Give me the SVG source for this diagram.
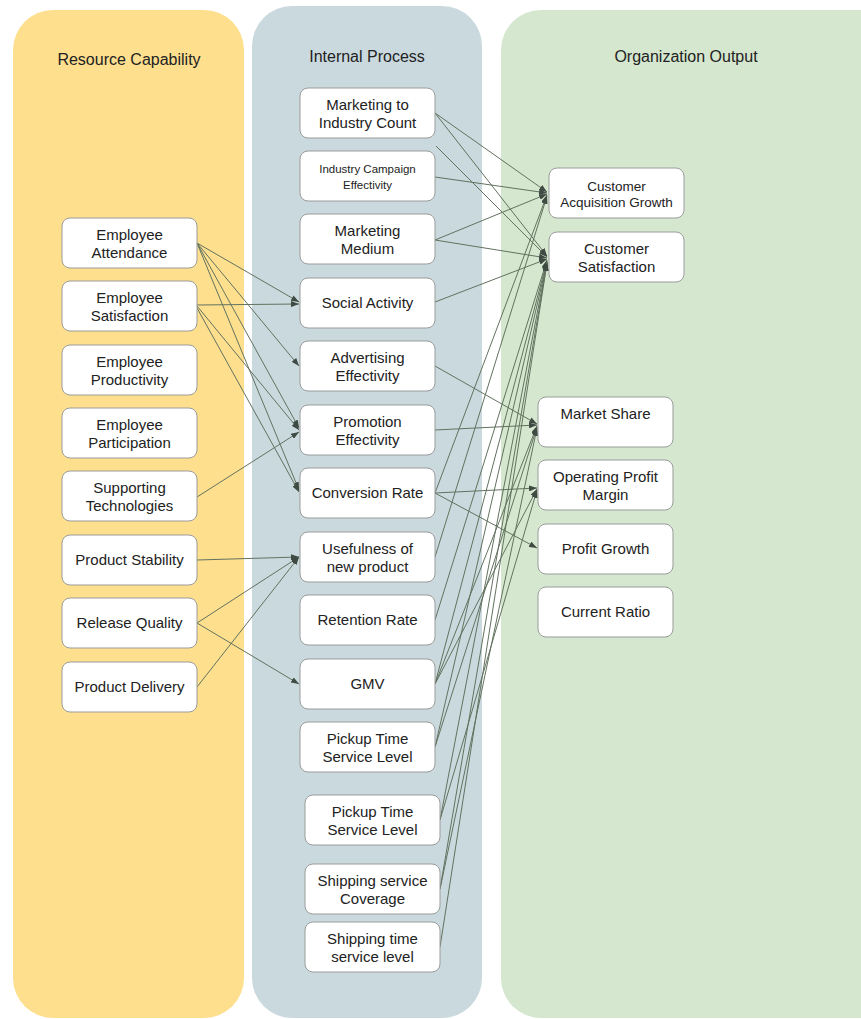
<svg xmlns="http://www.w3.org/2000/svg" width="861" height="1019" viewBox="0 0 861 1019">
<defs>
<style>
.col-y{fill:#fddf8e}
.col-b{fill:#c9d9de}
.col-g{fill:#d5e7cf}
.title{font-family:"Liberation Sans",Arial,sans-serif;font-size:16px;fill:#222;text-anchor:middle}
.box{fill:#ffffff;stroke:#9b9b9b;stroke-width:1}
.lbl{font-family:"Liberation Sans",Arial,sans-serif;font-size:15px;fill:#222;text-anchor:middle}
.sm{font-size:11.5px}
.cag{font-size:13.5px}
.edge{fill:none;stroke:#62725f;stroke-width:1;marker-end:url(#arr)}
</style>
<marker id="arr" viewBox="0 0 8 6" refX="8" refY="3" markerWidth="8" markerHeight="6" markerUnits="userSpaceOnUse" orient="auto">
<path d="M0,0 L8,3 L0,6 z" fill="#3f4a43"/>
</marker>
</defs>
<rect width="861" height="1019" fill="#ffffff"/>
<g id="col-resource">
<rect class="col-y" x="13" y="10" width="231" height="1008" rx="40"/>
<text class="title" x="129" y="65">Resource Capability</text>
</g>
<g id="col-internal">
<rect class="col-b" x="252" y="6" width="230" height="1012" rx="40"/>
<text class="title" x="367" y="62">Internal Process</text>
</g>
<g id="col-output">
<rect class="col-g" x="501" y="10" width="400" height="1008" rx="40"/>
<text class="title" x="686" y="62">Organization Output</text>
</g>

<g id="connectors">
<line class="edge" x1="197" y1="243" x2="299" y2="302"/>
<line class="edge" x1="197" y1="243" x2="299" y2="366"/>
<line class="edge" x1="197" y1="243" x2="299" y2="428"/>
<line class="edge" x1="197" y1="243" x2="299" y2="490"/>
<line class="edge" x1="197" y1="305" x2="299" y2="304"/>
<line class="edge" x1="197" y1="306" x2="299" y2="430"/>
<line class="edge" x1="197" y1="308" x2="299" y2="492"/>
<line class="edge" x1="197" y1="497" x2="299" y2="432"/>
<line class="edge" x1="197" y1="560" x2="299" y2="557"/>
<line class="edge" x1="197" y1="623" x2="299" y2="557"/>
<line class="edge" x1="197" y1="623" x2="299" y2="684"/>
<line class="edge" x1="197" y1="687" x2="299" y2="557"/>

<line class="edge" x1="435" y1="113" x2="547" y2="192"/>
<line class="edge" x1="435" y1="113" x2="547" y2="256"/>
<line class="edge" x1="436" y1="146" x2="547" y2="257"/>
<line class="edge" x1="435" y1="177" x2="547" y2="193"/>
<line class="edge" x1="435" y1="240" x2="547" y2="194"/>
<line class="edge" x1="435" y1="240" x2="547" y2="258"/>
<line class="edge" x1="435" y1="302" x2="547" y2="259"/>
<line class="edge" x1="435" y1="366" x2="537" y2="424"/>
<line class="edge" x1="435" y1="430" x2="537" y2="425"/>
<line class="edge" x1="435" y1="493" x2="547" y2="195"/>
<line class="edge" x1="435" y1="493" x2="537" y2="488"/>
<line class="edge" x1="435" y1="493" x2="537" y2="548"/>
<line class="edge" x1="435" y1="557" x2="547" y2="196"/>
<line class="edge" x1="435" y1="620" x2="547" y2="260"/>
<line class="edge" x1="435" y1="684" x2="547" y2="261"/>
<line class="edge" x1="435" y1="684" x2="537" y2="426"/>
<line class="edge" x1="435" y1="684" x2="537" y2="489"/>
<line class="edge" x1="435" y1="747" x2="547" y2="262"/>
<line class="edge" x1="435" y1="747" x2="537" y2="427"/>
<line class="edge" x1="440" y1="820" x2="547" y2="262"/>
<line class="edge" x1="440" y1="820" x2="537" y2="490"/>
<line class="edge" x1="440" y1="889" x2="547" y2="263"/>
<line class="edge" x1="440" y1="889" x2="537" y2="428"/>
<line class="edge" x1="440" y1="947" x2="547" y2="263"/>
</g>

<g id="n-emp-attendance"><rect class="box" x="62" y="218" width="135" height="50" rx="8"/><text class="lbl" x="129.5" y="240">Employee</text><text class="lbl" x="129.5" y="258">Attendance</text></g>
<g id="n-emp-satisfaction"><rect class="box" x="62" y="281" width="135" height="50" rx="8"/><text class="lbl" x="129.5" y="303">Employee</text><text class="lbl" x="129.5" y="321">Satisfaction</text></g>
<g id="n-emp-productivity"><rect class="box" x="62" y="345" width="135" height="50" rx="8"/><text class="lbl" x="129.5" y="367">Employee</text><text class="lbl" x="129.5" y="385">Productivity</text></g>
<g id="n-emp-participation"><rect class="box" x="62" y="408" width="135" height="50" rx="8"/><text class="lbl" x="129.5" y="430">Employee</text><text class="lbl" x="129.5" y="448">Participation</text></g>
<g id="n-supporting-tech"><rect class="box" x="62" y="471" width="135" height="50" rx="8"/><text class="lbl" x="129.5" y="493">Supporting</text><text class="lbl" x="129.5" y="511">Technologies</text></g>
<g id="n-product-stability"><rect class="box" x="62" y="535" width="135" height="50" rx="8"/><text class="lbl" x="129.5" y="565">Product Stability</text></g>
<g id="n-release-quality"><rect class="box" x="62" y="598" width="135" height="50" rx="8"/><text class="lbl" x="129.5" y="628">Release Quality</text></g>
<g id="n-product-delivery"><rect class="box" x="62" y="662" width="135" height="50" rx="8"/><text class="lbl" x="129.5" y="692">Product Delivery</text></g>

<g id="n-mkt-industry"><rect class="box" x="300" y="88" width="135" height="50" rx="8"/><text class="lbl" x="367.5" y="110">Marketing to</text><text class="lbl" x="367.5" y="128">Industry Count</text></g>
<g id="n-industry-campaign"><rect class="box" x="300" y="151" width="135" height="50" rx="8"/><text class="lbl sm" x="367.5" y="173">Industry Campaign</text><text class="lbl sm" x="367.5" y="189">Effectivity</text></g>
<g id="n-mkt-medium"><rect class="box" x="300" y="214" width="135" height="50" rx="8"/><text class="lbl" x="367.5" y="236">Marketing</text><text class="lbl" x="367.5" y="254">Medium</text></g>
<g id="n-social-activity"><rect class="box" x="300" y="278" width="135" height="50" rx="8"/><text class="lbl" x="367.5" y="308">Social Activity</text></g>
<g id="n-advertising"><rect class="box" x="300" y="341" width="135" height="50" rx="8"/><text class="lbl" x="367.5" y="363">Advertising</text><text class="lbl" x="367.5" y="381">Effectivity</text></g>
<g id="n-promotion"><rect class="box" x="300" y="405" width="135" height="50" rx="8"/><text class="lbl" x="367.5" y="427">Promotion</text><text class="lbl" x="367.5" y="445">Effectivity</text></g>
<g id="n-conversion"><rect class="box" x="300" y="468" width="135" height="50" rx="8"/><text class="lbl" x="367.5" y="498">Conversion Rate</text></g>
<g id="n-usefulness"><rect class="box" x="300" y="532" width="135" height="50" rx="8"/><text class="lbl" x="367.5" y="554">Usefulness of</text><text class="lbl" x="367.5" y="572">new product</text></g>
<g id="n-retention"><rect class="box" x="300" y="595" width="135" height="50" rx="8"/><text class="lbl" x="367.5" y="625">Retention Rate</text></g>
<g id="n-gmv"><rect class="box" x="300" y="659" width="135" height="50" rx="8"/><text class="lbl" x="367.5" y="689">GMV</text></g>
<g id="n-pickup-1"><rect class="box" x="300" y="722" width="135" height="50" rx="8"/><text class="lbl" x="367.5" y="744">Pickup Time</text><text class="lbl" x="367.5" y="762">Service Level</text></g>
<g id="n-pickup-2"><rect class="box" x="305" y="795" width="135" height="50" rx="8"/><text class="lbl" x="372.5" y="817">Pickup Time</text><text class="lbl" x="372.5" y="835">Service Level</text></g>
<g id="n-shipping-coverage"><rect class="box" x="305" y="864" width="135" height="50" rx="8"/><text class="lbl" x="372.5" y="886">Shipping service</text><text class="lbl" x="372.5" y="904">Coverage</text></g>
<g id="n-shipping-time"><rect class="box" x="305" y="922" width="135" height="50" rx="8"/><text class="lbl" x="372.5" y="944">Shipping time</text><text class="lbl" x="372.5" y="962">service level</text></g>

<g id="n-cust-acq"><rect class="box" x="549" y="168" width="135" height="50" rx="8"/><text class="lbl cag" x="616.5" y="191">Customer</text><text class="lbl cag" x="616.5" y="207">Acquisition Growth</text></g>
<g id="n-cust-sat"><rect class="box" x="549" y="232" width="135" height="50" rx="8"/><text class="lbl" x="616.5" y="254">Customer</text><text class="lbl" x="616.5" y="272">Satisfaction</text></g>
<g id="n-market-share"><rect class="box" x="538" y="397" width="135" height="50" rx="8"/><text class="lbl" x="605.5" y="419">Market Share</text></g>
<g id="n-op-margin"><rect class="box" x="538" y="460" width="135" height="50" rx="8"/><text class="lbl" x="605.5" y="482">Operating Profit</text><text class="lbl" x="605.5" y="500">Margin</text></g>
<g id="n-profit-growth"><rect class="box" x="538" y="524" width="135" height="50" rx="8"/><text class="lbl" x="605.5" y="554">Profit Growth</text></g>
<g id="n-current-ratio"><rect class="box" x="538" y="587" width="135" height="50" rx="8"/><text class="lbl" x="605.5" y="617">Current Ratio</text></g>
</svg>
